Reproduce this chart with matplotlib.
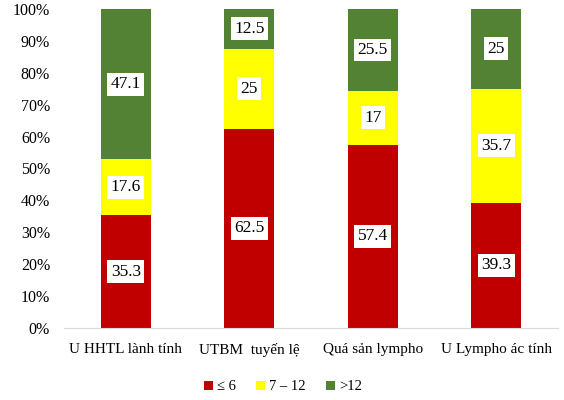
import numpy as np
import matplotlib.pyplot as plt
from matplotlib.ticker import PercentFormatter

plt.rcParams['font.family'] = ['Liberation Serif', 'DejaVu Serif']

categories = ["U HHTL lành tính", "UTBM  tuyến lệ", "Quá sản lympho", "U Lympho ác tính"]
low = [35.3, 62.5, 57.4, 39.3]
mid = [17.6, 25, 17, 35.7]
high = [47.1, 12.5, 25.5, 25]
series_names = ["≤ 6", "7 – 12", ">12"]
colors = ["#C00000", "#FFFF00", "#548235"]

fig = plt.figure(figsize=(5.64, 4.0), dpi=100)
ax = fig.add_axes([64/564, 1 - 328/400, 494/564, 319/400])

x = np.arange(len(categories))
bottom = np.zeros(len(categories))
for vals, name, c in zip([low, mid, high], series_names, colors):
    vals = np.array(vals, dtype=float)
    ax.bar(x, vals, 0.405, bottom=bottom, color=c, label=name)
    for xi, b, v in zip(x, bottom, vals):
        ax.text(xi, b + v / 2, f"{v:g}", ha="center", va="center", fontsize=12.5,
                bbox=dict(facecolor="white", edgecolor="none", pad=2.5))
    bottom += vals

ax.set_xlim(-0.5, len(categories) - 0.5)
ax.set_ylim(0, 100)
ax.set_yticks(np.arange(0, 101, 10))
ax.yaxis.set_major_formatter(PercentFormatter(decimals=0))
ax.set_xticks(x)
ax.set_xticklabels(categories, fontsize=11)
for s in ["top", "right", "left"]:
    ax.spines[s].set_visible(False)
ax.spines["bottom"].set_color("#D9D9D9")
ax.tick_params(axis="both", length=0)
ax.tick_params(axis="y", labelsize=11.5, pad=10)
ax.tick_params(axis="x", pad=11)

fig.legend(loc="center", bbox_to_anchor=(283/564, 1 - 387/400), ncol=3, frameon=False,
           fontsize=10.5, handlelength=0.6, handleheight=0.6, handletextpad=0.3, columnspacing=1.4)

plt.savefig("out.png", dpi=100)
